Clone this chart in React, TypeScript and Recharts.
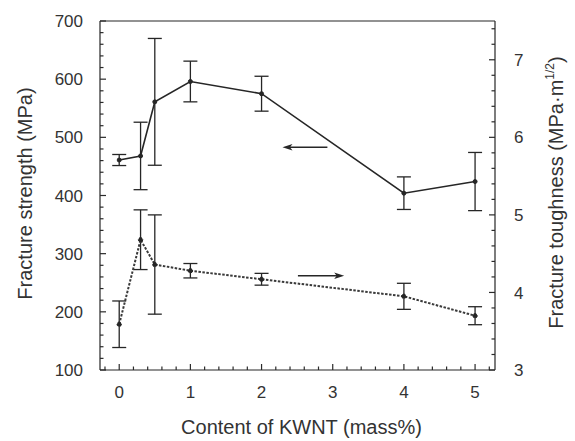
import React from "react";
import {
  ComposedChart,
  Line,
  XAxis,
  YAxis,
  ErrorBar,
  ReferenceLine,
  Label,
} from "recharts";

// ---- data ----
const kwntContent = [0, 0.3, 0.5, 1, 2, 4, 5];
const strengthMPa = [461, 468, 561, 596, 575, 404, 424];
const strengthErr = [9.5, 58, 109, 35, 30, 28, 50];
const toughness = [3.59, 4.68, 4.36, 4.28, 4.17, 3.95, 3.7];
const toughnessErr = [0.3, 0.385, 0.64, 0.093, 0.076, 0.168, 0.116];

const xMajorTicks = [0, 1, 2, 3, 4, 5];
const leftMajorTicks = [100, 200, 300, 400, 500, 600, 700];
const rightMajorTicks = [3, 4, 5, 6, 7];

// arrows: [x, y] start -> end (head at end)
const strengthArrow = [
  [2.925, 483],
  [2.294, 483],
];
const toughnessArrow = [
  [2.511, 4.216],
  [3.161, 4.216],
];

const rnd = (v: number) => Math.round(v * 1000) / 1000;
const xTicks = Array.from({ length: 28 }, (_, i) => rnd(-0.2 + i * 0.2));
const leftTicks = Array.from({ length: 31 }, (_, i) => 100 + i * 20);
const rightTicks = Array.from({ length: 23 }, (_, i) => rnd(3 + i * 0.2));

const rows = kwntContent.map((x, i) => ({
  x,
  strength: strengthMPa[i],
  sErr: strengthErr[i],
  tough: toughness[i],
  tErr: toughnessErr[i],
}));

const INK = "#262626";
const TICK = "#2a2a2a";
const TXT = "#333333";
const FONT = "'Liberation Sans', Arial, Helvetica, sans-serif";
const isMajor = (v: number, majors: number[]) =>
  majors.some((m) => Math.abs(m - v) < 1e-6);

const LeftTick = (props: any) => {
  const x = Number(props.x);
  const y = Number(props.y);
  const v = props.payload.value;
  const major = isMajor(v, leftMajorTicks);
  return (
    <g>
      <line x1={x} x2={x + (major ? 6 : 3.5)} y1={y} y2={y} stroke={TICK} strokeWidth={1.2} />
      {major ? (
        <text x={x - 17} y={y} dy="0.36em" textAnchor="end" fontSize={17} fill={TXT} fontFamily={FONT}>
          {v}
        </text>
      ) : null}
    </g>
  );
};

const RightTick = (props: any) => {
  const x = Number(props.x);
  const y = Number(props.y);
  const v = props.payload.value;
  const major = isMajor(v, rightMajorTicks);
  return (
    <g>
      <line x1={x} x2={x - (major ? 6 : 3.5)} y1={y} y2={y} stroke={TICK} strokeWidth={1.2} />
      {major ? (
        <text x={x + 19} y={y} dy="0.36em" textAnchor="start" fontSize={17} fill={TXT} fontFamily={FONT}>
          {v}
        </text>
      ) : null}
    </g>
  );
};

const BottomTick = (props: any) => {
  const x = Number(props.x);
  const y = Number(props.y);
  const v = props.payload.value;
  const major = isMajor(v, xMajorTicks);
  return (
    <g>
      <line x1={x} x2={x} y1={y} y2={y - (major ? 6 : 3.5)} stroke={TICK} strokeWidth={1.2} />
      {major ? (
        <text x={x} y={y + 22} dy="0.36em" textAnchor="middle" fontSize={17} fill={TXT} fontFamily={FONT}>
          {v}
        </text>
      ) : null}
    </g>
  );
};

const Arrow = (p: any) => {
  const x1 = Number(p.x1);
  const y1 = Number(p.y1);
  const x2 = Number(p.x2);
  const y2 = Number(p.y2);
  const dir = Math.sign(x2 - x1) || 1;
  const hl = 10;
  const hw = 3.2;
  return (
    <g>
      <line x1={x1} y1={y1} x2={x2 - dir * hl * 0.6} y2={y2} stroke={INK} strokeWidth={1.5} />
      <polygon
        points={`${x2},${y2} ${x2 - dir * hl},${y2 - hw} ${x2 - dir * hl * 0.75},${y2} ${x2 - dir * hl},${y2 + hw}`}
        fill={INK}
      />
    </g>
  );
};

const LeftTitle = (props: any) => {
  const vb = props.viewBox || { x: 0, y: 21, width: 100, height: 349 };
  const cx = vb.x + 25;
  const cy = vb.y + vb.height / 2 - 2;
  return (
    <text x={cx} y={cy} dy="0.36em" textAnchor="middle" transform={`rotate(-90, ${cx}, ${cy})`} fontSize={20} fill={TXT} fontFamily={FONT}>
      Fracture strength (MPa)
    </text>
  );
};

const RightTitle = (props: any) => {
  const vb = props.viewBox || { x: 495, y: 21, width: 80, height: 349 };
  const cx = vb.x + 61;
  const cy = vb.y + vb.height / 2 - 3;
  return (
    <text x={cx} y={cy} dy="0.36em" textAnchor="middle" transform={`rotate(-90, ${cx}, ${cy})`} fontSize={20} fill={TXT} fontFamily={FONT}>
      <tspan>Fracture toughness (MPa·m</tspan>
      <tspan fontSize={12} dy="-0.75em">1/2</tspan>
      <tspan dy="0.45em">)</tspan>
    </text>
  );
};

const BottomTitle = (props: any) => {
  const vb = props.viewBox || { x: 100, y: 370, width: 395, height: 71 };
  const cx = vb.x + vb.width / 2 + 4;
  const cy = vb.y + 57;
  return (
    <text x={cx} y={cy} dy="0.36em" textAnchor="middle" fontSize={20} fill={TXT} fontFamily={FONT}>
      Content of KWNT (mass%)
    </text>
  );
};

export default function App() {
  return (
    <div style={{ position: "absolute", left: 0, top: 0, background: "#fff" }}>
      <ComposedChart width={575} height={441} data={rows} margin={{ top: 21, right: 0, bottom: 0, left: 0 }}>
        <XAxis
          xAxisId="x"
          dataKey="x"
          type="number"
          domain={[-0.27, 5.28]}
          allowDataOverflow
          ticks={xTicks}
          interval={0}
          tickSize={0}
          tickMargin={0}
          tickLine={false}
          tick={<BottomTick />}
          height={71}
          axisLine={{ stroke: INK, strokeWidth: 1.2 }}
        >
          <Label content={<BottomTitle />} />
        </XAxis>
        <YAxis
          yAxisId="L"
          orientation="left"
          type="number"
          domain={[100, 700]}
          allowDataOverflow
          ticks={leftTicks}
          interval={0}
          tickSize={0}
          tickMargin={0}
          tickLine={false}
          tick={<LeftTick />}
          width={100}
          axisLine={{ stroke: INK, strokeWidth: 1.2 }}
        >
          <Label content={<LeftTitle />} />
        </YAxis>
        <YAxis
          yAxisId="R"
          orientation="right"
          type="number"
          domain={[3, 7.5]}
          allowDataOverflow
          ticks={rightTicks}
          interval={0}
          tickSize={0}
          tickMargin={0}
          tickLine={false}
          tick={<RightTick />}
          width={80}
          axisLine={{ stroke: INK, strokeWidth: 1.2 }}
        >
          <Label content={<RightTitle />} />
        </YAxis>

        <ReferenceLine xAxisId="x" yAxisId="L" y={700} stroke={INK} strokeWidth={1.2} />

        <ReferenceLine
          xAxisId="x"
          yAxisId="L"
          segment={[
            { x: strengthArrow[0][0], y: strengthArrow[0][1] },
            { x: strengthArrow[1][0], y: strengthArrow[1][1] },
          ]}
          shape={<Arrow />}
          ifOverflow="visible"
        />
        <ReferenceLine
          xAxisId="x"
          yAxisId="R"
          segment={[
            { x: toughnessArrow[0][0], y: toughnessArrow[0][1] },
            { x: toughnessArrow[1][0], y: toughnessArrow[1][1] },
          ]}
          shape={<Arrow />}
          ifOverflow="visible"
        />

        <Line
          xAxisId="x"
          yAxisId="L"
          dataKey="strength"
          type="linear"
          stroke={INK}
          strokeWidth={1.6}
          dot={{ r: 2, fill: INK, stroke: INK, strokeWidth: 1 }}
          activeDot={false}
          isAnimationActive={false}
        >
          <ErrorBar dataKey="sErr" direction="y" width={7} stroke={INK} strokeWidth={1.3} />
        </Line>
        <Line
          xAxisId="x"
          yAxisId="R"
          dataKey="tough"
          type="linear"
          stroke="#3a3a3a"
          strokeWidth={2}
          strokeDasharray="2.5 1.5"
          dot={{ r: 2.2, fill: INK, stroke: INK, strokeWidth: 1 }}
          activeDot={false}
          isAnimationActive={false}
        >
          <ErrorBar dataKey="tErr" direction="y" width={7} stroke={INK} strokeWidth={1.3} />
        </Line>
      </ComposedChart>
    </div>
  );
}
